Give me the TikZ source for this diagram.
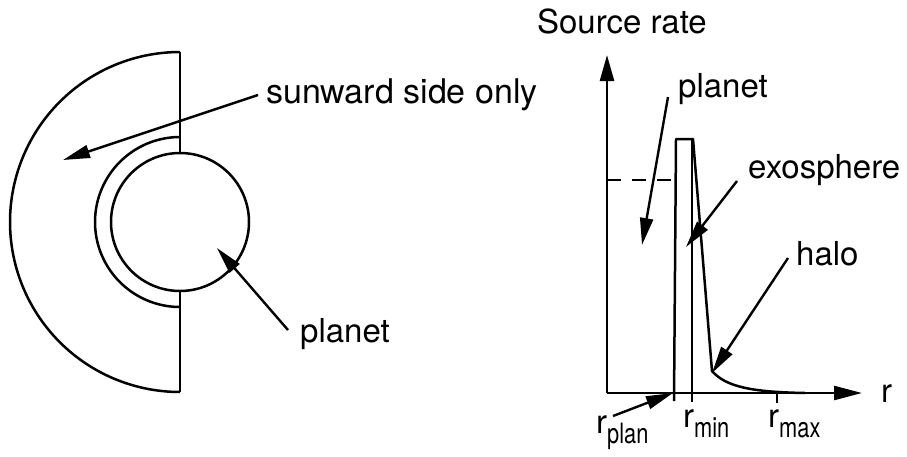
\documentclass[tikz,border=0pt]{standalone}
\usepackage{fontspec}
\usepackage{graphicx}
\setmainfont{TeX Gyre Heros}
\usetikzlibrary{arrows.meta}
\newcommand{\subtxt}[1]{\raisebox{-10pt}{\fontsize{28}{30}\selectfont\scalebox{0.78}[1]{#1}}}
\tikzset{
  ln/.style={line width=2.5pt, line join=round},
  ptr/.style={line width=2.4pt, -{Triangle[length=27pt,width=13pt]}},
  lbl/.style={inner sep=0pt, anchor=base west, font=\fontsize{33}{36}\selectfont},
}
\begin{document}
\begin{tikzpicture}[x=1pt,y=-1pt]
\useasboundingbox (0,0) rectangle (907,456);

% ---------- left: planet with exosphere and halo ----------
\node[draw, circle, line width=2.5pt, minimum size=138pt, inner sep=0pt] (planetL) at (180,222) {};
\coordinate (haloTop) at (180,52);
\coordinate (haloBot) at (180,392);
\draw[ln] plot[domain=90:270, samples=120] ({180+170*cos(\x)}, {222-170*sin(\x)});
\draw[ln] plot[domain=90:270, samples=80] ({180+85*cos(\x)}, {222-85*sin(\x)});
\draw[ln] (haloTop) -- (planetL.north);
\draw[ln] (planetL.south) -- (haloBot);

\node[lbl, font=\fontsize{34}{36}\selectfont] (sunward) at (266,103) {sunward side only};
\coordinate (sunS) at (258,95);
\coordinate (sunT) at (63,160);
\draw[ptr] (sunS) -- (sunT);

\node[lbl] (planetLlbl) at (300,342) {planet};
\coordinate (plS) at (288,330);
\coordinate (plT) at (217,248);
\draw[ptr] (plS) -- (plT);

% ---------- right: source rate graph ----------
\coordinate (O) at (607,393);
\coordinate (ytop) at (607,55);
\coordinate (xend) at (862,393);
\draw[ln, -{Triangle[length=26pt,width=14pt]}] (O) -- (ytop);
\draw[ln, -{Triangle[length=28pt,width=14pt]}] (O) -- (xend);
\node[inner sep=0pt, anchor=base east, font=\fontsize{33}{36}\selectfont] (srate) at (707,33) {Source rate};
\node[lbl] (raxis) at (881,402) {r};

% peak and halo profile
\draw[ln] (674,401) -- (676,139) -- (693,139) -- (712,371)
  .. controls (726,387) and (752,392) .. (805,393);
\draw[ln] (692,139) -- (692,402);
\draw[ln] (777,393) -- (777,403);
\draw[ln, dash pattern=on 14pt off 11pt] (607,180) -- (673,180);

% labels on graph
\node[lbl] (planetR) at (678,97) {planet};
\coordinate (prS) at (668,97);
\coordinate (prT) at (642,245);
\draw[ptr] (prS) -- (prT);

\node[lbl] (exo) at (748,178) {exosphere};
\coordinate (exS) at (737,181);
\coordinate (exT) at (686,247);
\draw[ptr] (exS) -- (exT);

\node[lbl] (halo) at (796,265) {halo};
\coordinate (haS) at (788,258);
\coordinate (haT) at (712,373);
\draw[ptr] (haS) -- (haT);

% axis tick labels
\node[lbl] (rplan) at (596,433) {r\subtxt{plan}};
\coordinate (rpS) at (613,416);
\coordinate (rpT) at (673,393);
\draw[ptr] (rpS) -- (rpT);
\node[lbl] (rmin) at (683,427) {r\subtxt{min}};
\node[lbl] (rmax) at (768,427) {r\subtxt{max}};
\end{tikzpicture}
\end{document}
